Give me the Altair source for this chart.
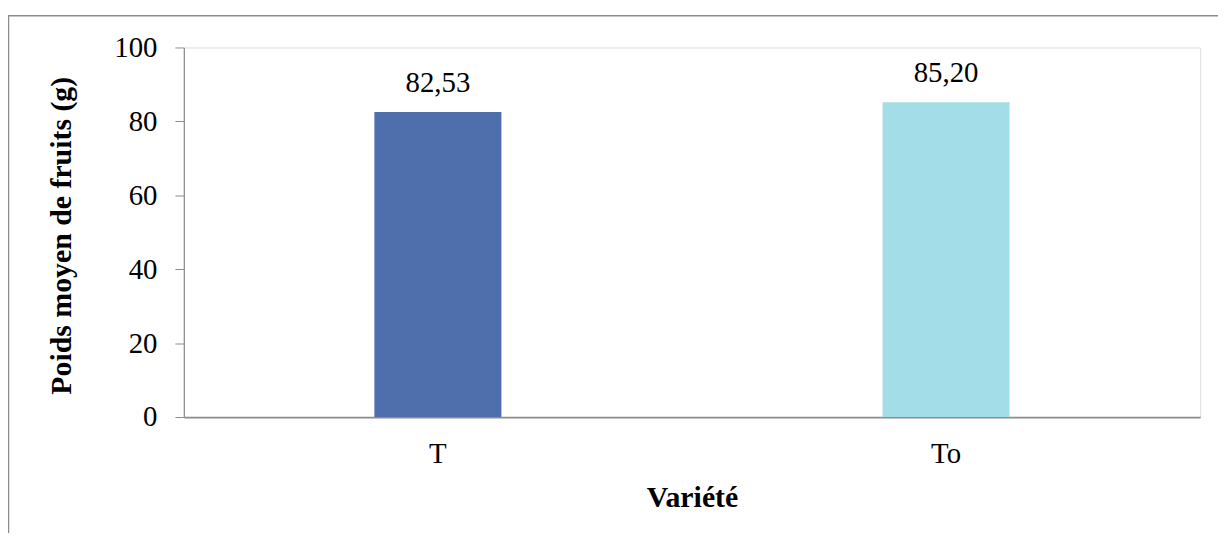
import altair as alt
import pandas as pd

categories = ["T", "To"]
values = [82.53, 85.20]
labels = ["82,53", "85,20"]
colors = ["#4f6eac", "#a3dde7"]

df = pd.DataFrame({"Variété": categories, "Poids": values, "label": labels, "color": colors})

FONT = "Liberation Serif"
W, H = 1023, 372

x_enc = alt.X(
    "Variété:N",
    sort=categories,
    scale=alt.Scale(paddingInner=0.75, paddingOuter=0.375),
    axis=alt.Axis(
        title="Variété",
        labelAngle=0,
        labelFont=FONT,
        labelFontSize=29,
        labelColor="#000000",
        labelPadding=23,
        ticks=False,
        tickSize=0,
        domainColor="#8c8c8c",
        domainWidth=1.8,
        titleFont=FONT,
        titleFontSize=30,
        titleFontWeight="bold",
        titleColor="#000000",
        titleBaseline="middle",
        titleY=81,
    ),
)

y_enc = alt.Y(
    "Poids:Q",
    scale=alt.Scale(domain=[0, 100], nice=False),
    axis=alt.Axis(
        title="Poids moyen de fruits (g)",
        values=[0, 20, 40, 60, 80, 100],
        grid=False,
        labelFont=FONT,
        labelFontSize=29,
        labelColor="#000000",
        labelPadding=18,
        tickSize=9,
        tickColor="#8c8c8c",
        domainColor="#8c8c8c",
        domainWidth=1.2,
        titleFont=FONT,
        titleFontSize=30,
        titleFontWeight="bold",
        titleColor="#000000",
        titleAngle=270,
        titleAlign="center",
        titleBaseline="middle",
        titleX=-123,
        titleY=H / 2 + 3,
    ),
)

bars = alt.Chart(df).mark_bar().encode(
    x=x_enc,
    y=y_enc,
    color=alt.Color("color:N", scale=None),
)

text = alt.Chart(df).mark_text(
    font=FONT, fontSize=29, color="#000000", baseline="alphabetic", dy=-20
).encode(
    x=alt.X("Variété:N", sort=categories),
    y="Poids:Q",
    text="label:N",
)

frame_df = pd.DataFrame({"k": [0]})
top_line = alt.Chart(frame_df).mark_rule(color="#8c8c8c", strokeWidth=1.5).encode(
    x=alt.value(-177), x2=alt.value(W + 30), y=alt.value(-32)
)
left_line = alt.Chart(frame_df).mark_rule(color="#8c8c8c", strokeWidth=1.5).encode(
    x=alt.value(-176.5), y=alt.value(-32), y2=alt.value(H + 140)
)

chart = alt.layer(bars, text, top_line, left_line).properties(
    width=W,
    height=H,
    autosize=alt.AutoSizeParams(type="none"),
    padding={"left": 177, "top": 38, "right": 18, "bottom": 115},
).configure_view(stroke=None).configure(background="#ffffff")

chart.save("out.html", embed_options={"renderer": "svg", "actions": False})
